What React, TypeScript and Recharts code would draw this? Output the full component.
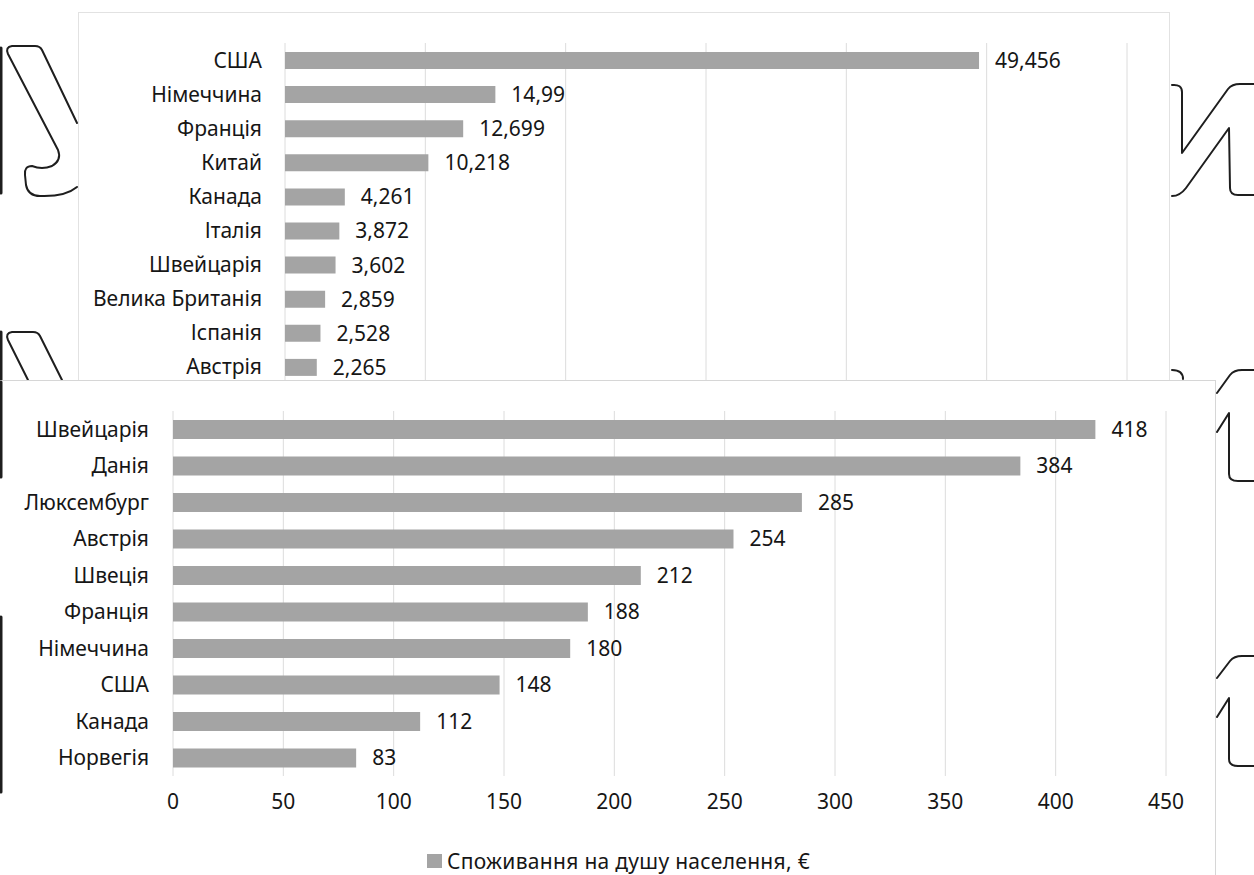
import React from "react";
import {
  BarChart,
  Bar,
  XAxis,
  YAxis,
  CartesianGrid,
  LabelList,
  Legend,
} from "recharts";

// Top chart: total consumption
const topCountries = [
  "США",
  "Німеччина",
  "Франція",
  "Китай",
  "Канада",
  "Італія",
  "Швейцарія",
  "Велика Британія",
  "Іспанія",
  "Австрія",
];
const topValues = [49.456, 14.99, 12.699, 10.218, 4.261, 3.872, 3.602, 2.859, 2.528, 2.265];
const topTicks = [0, 10, 20, 30, 40, 50, 60];

// Bottom chart: per-capita consumption
const bottomCountries = [
  "Швейцарія",
  "Данія",
  "Люксембург",
  "Австрія",
  "Швеція",
  "Франція",
  "Німеччина",
  "США",
  "Канада",
  "Норвегія",
];
const bottomValues = [418, 384, 285, 254, 212, 188, 180, 148, 112, 83];
const bottomTicks = [0, 50, 100, 150, 200, 250, 300, 350, 400, 450];
const seriesName = "Споживання на душу населення, €";

const topData = topCountries.map((name, i) => ({ name, value: topValues[i] }));
const bottomData = bottomCountries.map((name, i) => ({ name, value: bottomValues[i] }));

const FONT = "'Noto Sans', 'DejaVu Sans', sans-serif";
const TEXT = "#161616";
const BAR = "#a4a4a4";
const GRID = "#dcdcdc";
const FS = 21;

const fmtComma = (v: any) => String(v).replace(".", ",");

const LegendContent = () => (
  <div
    style={{
      display: "flex",
      alignItems: "center",
      marginLeft: 428,
      marginTop: 21,
      fontFamily: FONT,
      fontSize: FS,
      color: TEXT,
      letterSpacing: 0.3,
      whiteSpace: "nowrap",
    }}
  >
    <span
      style={{
        display: "inline-block",
        width: 15,
        height: 14,
        background: BAR,
        marginRight: 5,
      }}
    />
    <span>{seriesName}</span>
  </div>
);

// decorative background outlines (page letters behind the charts)
const Decor = () => (
  <svg
    width={1254}
    height={875}
    style={{ position: "absolute", left: 0, top: 0 }}
    fill="none"
    stroke="#1e1e1e"
    strokeWidth={2}
    strokeLinejoin="round"
    strokeLinecap="round"
  >
    <line x1={1} y1={48} x2={1} y2={193} strokeWidth={3} />
    <path d="M 77 123 L 42 50 Q 40 46 35 46 L 12 46 Q 5 47 8 54 L 58 150 Q 62 160 52 166 Q 42 170 32 166 Q 24 166 25 175 L 26 185 Q 28 196 40 196 Q 65 197 77 187" />
    <line x1={1} y1={332} x2={1} y2={380} strokeWidth={3} />
    <path d="M 62 380 L 40 336 Q 38 332 33 332 L 12 332 Q 5 333 8 340 L 28 380" />
    <path d="M 1172 85 Q 1182 84 1182 92 L 1182 153 L 1228 89 Q 1232 84 1240 84 L 1254 84" />
    <path d="M 1172 196 Q 1180 196 1186 188 L 1229 128 L 1230 188 Q 1230 195 1238 195 L 1254 195" />
    <path d="M 1172 370 Q 1183 370 1183 379" />
  </svg>
);

const DecorFront = () => (
  <svg
    width={1254}
    height={875}
    style={{ position: "absolute", left: 0, top: 0, pointerEvents: "none" }}
    fill="none"
    stroke="#1e1e1e"
    strokeWidth={2}
    strokeLinejoin="round"
    strokeLinecap="round"
  >
    <line x1={1} y1={382} x2={1} y2={477} strokeWidth={3} />
    <line x1={1} y1={617} x2={1} y2={792} strokeWidth={3} />
    <path d="M 1217 393 L 1230 375 Q 1234 370 1242 370 L 1254 370" />
    <path d="M 1217 432 L 1229 413 L 1229 474 Q 1229 481 1238 481 L 1254 481" />
    <path d="M 1217 678 L 1230 661 Q 1234 656 1242 656 L 1254 656" />
    <path d="M 1217 717 L 1229 698 L 1229 759 Q 1229 766 1238 766 L 1254 766" />
  </svg>
);

export default function App() {
  return (
    <div
      style={{
        position: "absolute",
        left: 0,
        top: 0,
        width: 1254,
        height: 875,
        background: "#fff",
        overflow: "hidden",
        fontFamily: FONT,
      }}
    >
      <Decor />
      {/* Top chart panel */}
      <div
        style={{
          position: "absolute",
          left: 78,
          top: 12,
          width: 1090,
          height: 380,
          border: "1px solid #e2e2e2",
          background: "#fff",
        }}
      >
        <BarChart
          width={1090}
          height={371}
          data={topData}
          layout="vertical"
          margin={{ top: 30, right: 42, bottom: 0, left: 0 }}
          barCategoryGap={0}
        >
          <CartesianGrid horizontal={false} stroke={GRID} />
          <XAxis type="number" domain={[0, 60]} ticks={topTicks} hide />
          <YAxis
            type="category"
            dataKey="name"
            width={206}
            axisLine={false}
            tickLine={false}
            tickSize={0}
            tickMargin={23}
            tick={{ fill: TEXT, fontSize: FS, fontFamily: FONT }}
            interval={0}
          />
          <Bar dataKey="value" fill={BAR} barSize={17} isAnimationActive={false}>
            <LabelList
              dataKey="value"
              position="right"
              offset={16}
              formatter={fmtComma}
              style={{ fill: TEXT, fontSize: FS, fontFamily: FONT }}
            />
          </Bar>
        </BarChart>
      </div>

      {/* Bottom chart panel */}
      <div
        style={{
          position: "absolute",
          left: -1,
          top: 380,
          width: 1216,
          height: 500,
          borderTop: "1px solid #d6d6d6",
          borderRight: "1px solid #d6d6d6",
          background: "#fff",
        }}
      >
        <BarChart
          width={1216}
          height={495}
          data={bottomData}
          layout="vertical"
          margin={{ top: 30, right: 49, bottom: 0, left: 0 }}
        >
          <CartesianGrid horizontal={false} stroke={GRID} />
          <XAxis
            type="number"
            domain={[0, 450]}
            ticks={bottomTicks}
            axisLine={false}
            tickLine={false}
            tickSize={0}
            tickMargin={18}
            height={50}
            tick={{ fill: TEXT, fontSize: FS, fontFamily: FONT }}
          />
          <YAxis
            type="category"
            dataKey="name"
            width={174}
            axisLine={false}
            tickLine={false}
            tickSize={0}
            tickMargin={24}
            tick={{ fill: TEXT, fontSize: FS, fontFamily: FONT }}
            interval={0}
          />
          <Legend verticalAlign="bottom" height={50} content={<LegendContent />} />
          <Bar
            dataKey="value"
            name={seriesName}
            fill={BAR}
            barSize={19}
            isAnimationActive={false}
          >
            <LabelList
              dataKey="value"
              position="right"
              offset={16}
              style={{ fill: TEXT, fontSize: FS, fontFamily: FONT }}
            />
          </Bar>
        </BarChart>
      </div>
      <DecorFront />
    </div>
  );
}
